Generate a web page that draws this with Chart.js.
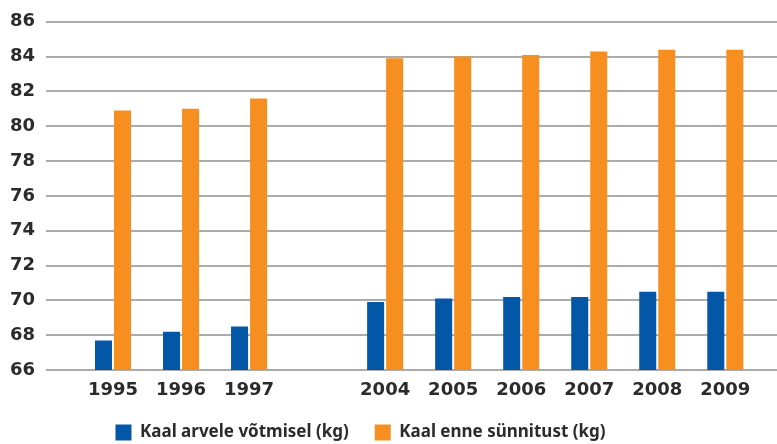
<!DOCTYPE html>
<html lang="et">
  <head>
    <meta charset="UTF-8" />
    <title>Kaal arvele võtmisel ja enne sünnitust</title>
    <script src="https://cdn.jsdelivr.net/npm/chart.js"></script>
    <style>
      body {
        margin: 0;
        background-color: #fff;
      }
      #wrap {
        width: 777px;
        height: 444px;
      }
    </style>
  </head>
  <body>
    <div id="wrap"><canvas id="myChart"></canvas></div>

    <script>
      // Andmed (tühi kategooria 1997 ja 2004 vahel)
      const categories = ["1995", "1996", "1997", "", "2004", "2005", "2006", "2007", "2008", "2009"];
      const kaalArvele = [67.7, 68.2, 68.5, null, 69.9, 70.1, 70.2, 70.2, 70.5, 70.5];
      const kaalEnne = [80.9, 81.0, 81.6, null, 83.9, 84.0, 84.1, 84.3, 84.4, 84.4];
      const seriesNames = ["Kaal arvele võtmisel (kg)", "Kaal enne sünnitust (kg)"];
      const yTicks = [66, 68, 70, 72, 74, 76, 78, 80, 82, 84, 86];

      const textColor = "#2b2b2b";
      const tickFont = { family: "DejaVu Sans", weight: "bold", size: 18 };

      // nihutab legendi nagu originaalis ja laseb aastatel mitte ära lõigata
      const legendShift = {
        id: "legendShift",
        afterLayout(chart) {
          const lg = chart.legend;
          lg.left -= 28;
          lg.right -= 28;
          lg.top += 7;
          lg.bottom += 7;
          chart.scales.x.bottom += 20;
        },
      };

      const toPoints = (arr) => arr.map((v, i) => ({ x: i, y: v }));

      const ctx = document.getElementById("myChart").getContext("2d");
      const myChart = new Chart(ctx, {
        type: "bar",
        data: {
          datasets: [
            {
              label: seriesNames[0],
              data: toPoints(kaalArvele),
              backgroundColor: "#0457a7",
            },
            {
              label: seriesNames[1],
              data: toPoints(kaalEnne),
              backgroundColor: "#f68f1f",
            },
          ],
        },
        plugins: [legendShift],
        options: {
          responsive: true,
          maintainAspectRatio: false,
          animation: false,
          categoryPercentage: 0.559,
          barPercentage: 0.895,
          layout: { padding: { top: 21, right: 0, left: 0, bottom: 0 } },
          plugins: {
            tooltip: { enabled: false },
            legend: {
              position: "bottom",
              labels: {
                boxWidth: 16,
                boxHeight: 16,
                padding: 26,
                color: textColor,
                font: { family: "Noto Sans", weight: "bold", size: 17 },
              },
            },
          },
          scales: {
            x: {
              type: "linear",
              offset: false,
              min: -0.985,
              max: 9.76,
              grid: { display: false },
              border: { display: false },
              afterBuildTicks: (scale) => {
                scale.ticks = categories.map((c, i) => ({ value: i }));
              },
              afterFit: (scale) => {
                scale.height = 21;
              },
              ticks: {
                padding: 2,
                color: textColor,
                font: tickFont,
                autoSkip: false,
                maxRotation: 0,
                callback: (value) => categories[value],
              },
            },
            y: {
              min: yTicks[0],
              max: yTicks[yTicks.length - 1],
              afterFit: (scale) => {
                scale.width = 46;
              },
              afterBuildTicks: (scale) => {
                scale.ticks = yTicks.map((v) => ({ value: v }));
              },
              grid: { color: "#acacac", lineWidth: 2, drawTicks: false },
              border: { display: false },
              ticks: {
                padding: 11,
                color: textColor,
                font: tickFont,
              },
            },
          },
        },
      });
    </script>
  </body>
</html>
